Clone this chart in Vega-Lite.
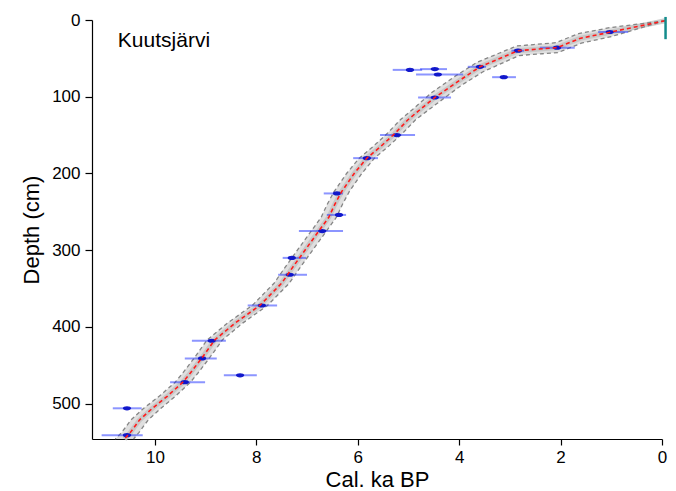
{
  "$schema": "https://vega.github.io/schema/vega-lite/v6.json",
  "width": 570,
  "height": 419,
  "autosize": {"type": "none"},
  "padding": {"left": 92, "top": 20, "right": 14, "bottom": 52},
  "background": "white",
  "config": {
    "view": {"stroke": null},
    "font": "Liberation Sans",
    "axis": {
      "grid": false,
      "domainColor": "#000000",
      "domainWidth": 1.2,
      "tickColor": "#000000",
      "tickWidth": 1.2,
      "tickSize": 6,
      "labelFont": "Liberation Sans",
      "labelFontSize": 17,
      "labelColor": "#000000",
      "labelFlush": false,
      "titleFont": "Liberation Sans",
      "titleFontSize": 22,
      "titleFontWeight": "normal",
      "titleColor": "#000000"
    },
    "axisX": {"labelPadding": 4, "titlePadding": 4},
    "axisY": {"tickSize": 7, "labelPadding": 5, "titlePadding": 8}
  },
  "datasets": {
    "band": [
      {"depth": 1, "lo": -0.06, "hi": -0.06},
      {"depth": 5, "lo": 0.145, "hi": 0.427},
      {"depth": 9.9, "lo": 0.397, "hi": 1.024},
      {"depth": 15, "lo": 0.659, "hi": 1.43},
      {"depth": 17.7, "lo": 0.798, "hi": 1.645},
      {"depth": 21.4, "lo": 0.988, "hi": 1.784},
      {"depth": 25, "lo": 1.234, "hi": 1.92},
      {"depth": 29.6, "lo": 1.549, "hi": 2.093},
      {"depth": 30.2, "lo": 1.59, "hi": 2.203},
      {"depth": 31, "lo": 1.62, "hi": 2.35},
      {"depth": 32, "lo": 1.658, "hi": 2.533},
      {"depth": 33, "lo": 1.696, "hi": 2.717},
      {"depth": 33.8, "lo": 1.725, "hi": 2.864},
      {"depth": 36, "lo": 1.808, "hi": 2.945},
      {"depth": 38, "lo": 1.883, "hi": 3.019},
      {"depth": 40, "lo": 1.958, "hi": 3.092},
      {"depth": 42.4, "lo": 2.049, "hi": 3.18},
      {"depth": 43, "lo": 2.167, "hi": 3.203},
      {"depth": 44, "lo": 2.364, "hi": 3.239},
      {"depth": 45, "lo": 2.561, "hi": 3.277},
      {"depth": 46.3, "lo": 2.817, "hi": 3.324},
      {"depth": 50, "lo": 2.942, "hi": 3.461},
      {"depth": 54.9, "lo": 3.107, "hi": 3.641},
      {"depth": 61, "lo": 3.312, "hi": 3.787},
      {"depth": 67.7, "lo": 3.538, "hi": 3.947},
      {"depth": 73.5, "lo": 3.676, "hi": 4.085},
      {"depth": 80, "lo": 3.832, "hi": 4.226},
      {"depth": 85.5, "lo": 3.963, "hi": 4.346},
      {"depth": 94.7, "lo": 4.15, "hi": 4.546},
      {"depth": 101, "lo": 4.278, "hi": 4.653},
      {"depth": 107.4, "lo": 4.408, "hi": 4.761},
      {"depth": 115, "lo": 4.56, "hi": 4.89},
      {"depth": 130, "lo": 4.86, "hi": 5.16},
      {"depth": 148, "lo": 5.12, "hi": 5.42},
      {"depth": 165, "lo": 5.4, "hi": 5.7},
      {"depth": 180, "lo": 5.67, "hi": 5.97},
      {"depth": 200, "lo": 5.92, "hi": 6.22},
      {"depth": 224, "lo": 6.17, "hi": 6.47},
      {"depth": 240, "lo": 6.3, "hi": 6.6},
      {"depth": 257, "lo": 6.42, "hi": 6.72},
      {"depth": 278, "lo": 6.65, "hi": 6.95},
      {"depth": 300, "lo": 6.89, "hi": 7.19},
      {"depth": 322, "lo": 7.13, "hi": 7.43},
      {"depth": 343, "lo": 7.35, "hi": 7.65},
      {"depth": 372, "lo": 7.78, "hi": 8.08},
      {"depth": 395, "lo": 8.27, "hi": 8.57},
      {"depth": 417, "lo": 8.67, "hi": 8.97},
      {"depth": 441, "lo": 8.93, "hi": 9.23},
      {"depth": 460, "lo": 9.15, "hi": 9.45},
      {"depth": 472, "lo": 9.3, "hi": 9.6},
      {"depth": 490, "lo": 9.59, "hi": 9.91},
      {"depth": 506, "lo": 9.88, "hi": 10.22},
      {"depth": 521, "lo": 10.13, "hi": 10.47},
      {"depth": 538, "lo": 10.32, "hi": 10.66},
      {"depth": 546, "lo": 10.42, "hi": 10.78}
    ],
    "median": [
      {"depth": 1, "age": -0.06},
      {"depth": 15.6, "age": 1.0},
      {"depth": 24, "age": 1.62},
      {"depth": 36, "age": 2.07},
      {"depth": 40, "age": 2.84},
      {"depth": 61, "age": 3.59},
      {"depth": 80, "age": 4.02},
      {"depth": 101, "age": 4.48},
      {"depth": 115, "age": 4.74},
      {"depth": 130, "age": 5.01},
      {"depth": 148, "age": 5.27},
      {"depth": 165, "age": 5.55},
      {"depth": 180, "age": 5.82},
      {"depth": 200, "age": 6.07},
      {"depth": 224, "age": 6.32},
      {"depth": 240, "age": 6.45},
      {"depth": 257, "age": 6.57},
      {"depth": 278, "age": 6.8},
      {"depth": 300, "age": 7.04},
      {"depth": 322, "age": 7.28},
      {"depth": 343, "age": 7.5},
      {"depth": 372, "age": 7.93},
      {"depth": 395, "age": 8.42},
      {"depth": 417, "age": 8.82},
      {"depth": 441, "age": 9.08},
      {"depth": 460, "age": 9.3},
      {"depth": 472, "age": 9.45},
      {"depth": 490, "age": 9.75},
      {"depth": 506, "age": 10.05},
      {"depth": 521, "age": 10.3},
      {"depth": 538, "age": 10.49},
      {"depth": 546, "age": 10.6}
    ],
    "dates": [
      {"depth": 15.6, "age": 1.03, "lo": 0.67, "hi": 1.26},
      {"depth": 36, "age": 2.07, "lo": 1.72, "hi": 2.41},
      {"depth": 40, "age": 2.84, "lo": 2.72, "hi": 2.97},
      {"depth": 61, "age": 3.59, "lo": 3.47, "hi": 3.83},
      {"depth": 64, "age": 4.48, "lo": 4.24, "hi": 4.77},
      {"depth": 65, "age": 4.97, "lo": 4.73, "hi": 5.31},
      {"depth": 71, "age": 4.42, "lo": 3.92, "hi": 4.85},
      {"depth": 74.5, "age": 3.12, "lo": 2.88, "hi": 3.35},
      {"depth": 101, "age": 4.48, "lo": 4.16, "hi": 4.81},
      {"depth": 150, "age": 5.23, "lo": 4.87, "hi": 5.56},
      {"depth": 180, "age": 5.82, "lo": 5.6, "hi": 6.09},
      {"depth": 226, "age": 6.41, "lo": 6.29, "hi": 6.67},
      {"depth": 254, "age": 6.37, "lo": 6.23, "hi": 6.61},
      {"depth": 275, "age": 6.7, "lo": 6.29, "hi": 7.16},
      {"depth": 310, "age": 7.3, "lo": 7.02, "hi": 7.48},
      {"depth": 332, "age": 7.34, "lo": 7.0, "hi": 7.57},
      {"depth": 372, "age": 7.89, "lo": 7.59, "hi": 8.17},
      {"depth": 418, "age": 8.88, "lo": 8.6, "hi": 9.27},
      {"depth": 441, "age": 9.07, "lo": 8.78, "hi": 9.41},
      {"depth": 463, "age": 8.32, "lo": 7.99, "hi": 8.64},
      {"depth": 472, "age": 9.41, "lo": 9.01, "hi": 9.7},
      {"depth": 506, "age": 10.55, "lo": 10.26, "hi": 10.83},
      {"depth": 541, "age": 10.55, "lo": 10.24, "hi": 11.05}
    ],
    "surface": [
      {"age": -0.07, "top": -4, "bottom": 25}
    ],
    "label": [
      {"age": 10.73, "depth": 35, "text": "Kuutsjärvi"}
    ]
  },
  "layer": [
    {
      "data": {"name": "band"},
      "mark": {"type": "area", "orient": "horizontal", "color": "#dddddd", "opacity": 0.95},
      "encoding": {
        "y": {"field": "depth", "type": "quantitative", "title": "Depth (cm)",
              "scale": {"domain": [0, 546], "reverse": true, "nice": false, "zero": false},
              "axis": {"values": [0, 100, 200, 300, 400, 500]}},
        "x": {"field": "lo", "type": "quantitative", "title": "Cal. ka BP",
              "scale": {"domain": [0, 11.24], "reverse": true, "nice": false, "zero": false},
              "axis": {"values": [0, 2, 4, 6, 8, 10]}},
        "x2": {"field": "hi"}
      }
    },
    {
      "data": {"name": "median"},
      "mark": {"type": "line", "color": "#c2c2c2", "strokeWidth": 5, "opacity": 0.8},
      "encoding": {
        "x": {"field": "age", "type": "quantitative", "title": "Cal. ka BP"},
        "y": {"field": "depth", "type": "quantitative", "title": "Depth (cm)"},
        "order": {"field": "depth", "type": "quantitative"}
      }
    },
    {
      "data": {"name": "band"},
      "mark": {"type": "line", "color": "#858585", "strokeWidth": 1.3, "strokeDash": [4, 3]},
      "encoding": {
        "x": {"field": "lo", "type": "quantitative", "title": "Cal. ka BP"},
        "y": {"field": "depth", "type": "quantitative", "title": "Depth (cm)"},
        "order": {"field": "depth", "type": "quantitative"}
      }
    },
    {
      "data": {"name": "band"},
      "mark": {"type": "line", "color": "#858585", "strokeWidth": 1.3, "strokeDash": [4, 3]},
      "encoding": {
        "x": {"field": "hi", "type": "quantitative", "title": "Cal. ka BP"},
        "y": {"field": "depth", "type": "quantitative", "title": "Depth (cm)"},
        "order": {"field": "depth", "type": "quantitative"}
      }
    },
    {
      "data": {"name": "dates"},
      "mark": {"type": "rule", "color": "#1a2cff", "strokeWidth": 2, "opacity": 0.5},
      "encoding": {
        "x": {"field": "lo", "type": "quantitative", "title": "Cal. ka BP"},
        "x2": {"field": "hi"},
        "y": {"field": "depth", "type": "quantitative", "title": "Depth (cm)"}
      }
    },
    {
      "data": {"name": "dates"},
      "mark": {"type": "point", "filled": true, "color": "#0a10c8", "opacity": 0.95, "size": 70,
               "shape": "M-1,0 A1,0.5 0 1,0 1,0 A1,0.5 0 1,0 -1,0 Z"},
      "encoding": {
        "x": {"field": "age", "type": "quantitative", "title": "Cal. ka BP"},
        "y": {"field": "depth", "type": "quantitative", "title": "Depth (cm)"}
      }
    },
    {
      "data": {"name": "median"},
      "mark": {"type": "line", "color": "#ff1a1a", "strokeWidth": 1.6, "strokeDash": [4, 3]},
      "encoding": {
        "x": {"field": "age", "type": "quantitative", "title": "Cal. ka BP"},
        "y": {"field": "depth", "type": "quantitative", "title": "Depth (cm)"},
        "order": {"field": "depth", "type": "quantitative"}
      }
    },
    {
      "data": {"name": "surface"},
      "mark": {"type": "rule", "color": "#138c8c", "strokeWidth": 2.5},
      "encoding": {
        "x": {"field": "age", "type": "quantitative", "title": "Cal. ka BP"},
        "y": {"field": "top", "type": "quantitative", "title": "Depth (cm)"},
        "y2": {"field": "bottom"}
      }
    },
    {
      "data": {"name": "label"},
      "mark": {"type": "text", "align": "left", "baseline": "alphabetic", "fontSize": 21, "font": "Liberation Sans", "color": "#000000"},
      "encoding": {
        "x": {"field": "age", "type": "quantitative", "title": "Cal. ka BP"},
        "y": {"field": "depth", "type": "quantitative", "title": "Depth (cm)"},
        "text": {"field": "text"}
      }
    }
  ]
}
